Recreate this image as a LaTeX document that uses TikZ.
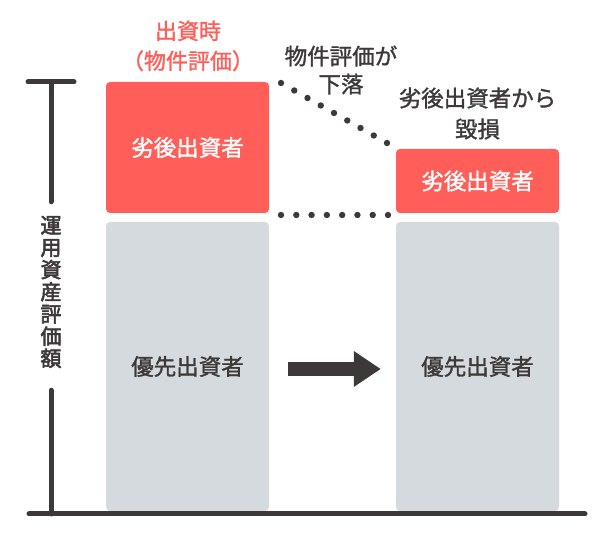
\documentclass[tikz,border=0pt]{standalone}
\usepackage{fontspec}
\setmainfont{Noto Sans CJK JP}[FakeBold=1.4]
\newfontfamily\heavyjp{Noto Sans CJK JP}[FakeBold=2.8]
\usetikzlibrary{arrows.meta, calc}
\definecolor{subred}{RGB}{255,94,89}
\definecolor{seniorgray}{RGB}{213,218,223}
\definecolor{inkdark}{RGB}{62,57,57}

\begin{document}
\begin{tikzpicture}[x=1pt, y=1pt, >=Latex]

        % Styles
        \tikzset{
            subbox/.style={fill=subred, rounded corners=4pt, minimum width=163pt, inner sep=0pt, text=white, font=\fontsize{22.5}{25}\selectfont},
            seniorbox/.style={fill=seniorgray, rounded corners=4pt, minimum width=163pt, minimum height=289pt, inner sep=0pt, text=inkdark, font=\fontsize{22.5}{25}\selectfont},
            note/.style={text=inkdark, align=center, inner sep=0pt},
            axislabel/.style={text=inkdark, align=center, inner xsep=0pt, inner ysep=14pt, font=\heavyjp\fontsize{21}{22.2}\selectfont},
            axisline/.style={draw=inkdark, line width=5pt, line cap=round},
            fatarrow/.style={draw=inkdark, line width=14pt, -{Triangle[length=27pt 0, width=34pt 0]}}
        }
        \useasboundingbox (0,0) rectangle (609,534);

        % --- Boxes ---
        \node[subbox, minimum height=131pt] (lsub) at (187.5,386.5) {劣後出資者};
        \node[seniorbox] (lsen) at (187.5,167.5) {優先出資者};
        \node[subbox, minimum height=64pt] (rsub) at (477.5,353) {劣後出資者};
        \node[seniorbox] (rsen) at (477.5,167.5) {優先出資者};

        % --- Labels ---
        \node[note, text=subred, font=\fontsize{22}{30}\selectfont] (invest) at (188,488) {出資時\\（物件評価）};
        \node[note, font=\fontsize{22.5}{28}\selectfont] (drop) at (341,464) {物件評価が\\下落};
        \node[note, font=\fontsize{22.5}{31}\selectfont] (loss) at (477.5,420.5) {劣後出資者から\\毀損};

        % --- Dotted guides ---
        \coordinate (dropA) at (281,451);
        \coordinate (dropB) at (387,391);
        \coordinate (levelA) at (281,319);
        \coordinate (levelB) at (388,319);
        \foreach \k in {0,...,8}
            \fill[inkdark] ($(dropA)!\k/8!(dropB)$) circle (3.2pt);
        \foreach \k in {0,...,7}
            \fill[inkdark] ($(levelA)!\k/7!(levelB)$) circle (3.2pt);

        % --- Arrow ---
        \draw[fatarrow] ([xshift=19pt, yshift=-2.5pt]lsen.east) -- ([xshift=-15pt, yshift=-2.5pt]rsen.west);

        % --- Axes ---
        \coordinate (ytop) at (51,452);
        \coordinate (tbarL) at (28,452);
        \coordinate (tbarR) at (74,452);
        \coordinate (xstart) at (29,20);
        \coordinate (xend) at (585,20);
        \coordinate (origin) at (51,20);
        \node[axislabel] (ylab) at (51,242) {運\\用\\資\\産\\評\\価\\額};
        \draw[axisline] (tbarL) -- (tbarR);
        \draw[axisline] (ytop) -- (ylab.north);
        \draw[axisline] ([yshift=-8pt]ylab.south) -- (origin);
        \draw[axisline] (xstart) -- (xend);

    \end{tikzpicture}
\end{document}
